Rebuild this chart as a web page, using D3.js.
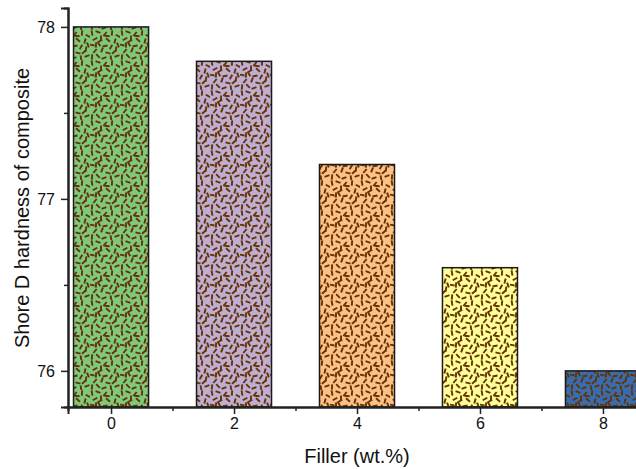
<!DOCTYPE html>
<html><head><meta charset="utf-8">
<script src="https://cdn.jsdelivr.net/npm/d3@7"></script>
<style>body{margin:0;background:#fff}svg{display:block;font-family:"Liberation Sans",Arial,sans-serif}</style>
</head><body><svg id="c" width="636" height="469"></svg>
<script>
const categories = [0, 2, 4, 6, 8];
const hardness = [78.0, 77.8, 77.2, 76.6, 76.0];
const barColors = ["#7fc97f", "#beaed4", "#fdc086", "#ffff99", "#386cb0"];
const yTicks = [76, 77, 78];
const yMinor = [76.5, 77.5];
const xTicks = [0, 2, 4, 6, 8];
const xMinor = [1, 3, 5, 7];
// texture dashes inside a 30x30 tile: [x, y, angle]
const dashes = [
  [2,3,80],[8,2,20],[15,4,-50],[22,3,95],[28,6,30],
  [5,9,-30],[11,8,90],[18,10,40],[25,11,-75],
  [2,15,10],[9,14,60],[15,16,-10],[21,17,120],[28,15,70],
  [5,21,130],[12,20,-70],[18,23,15],[24,22,-40],
  [2,27,95],[8,26,45],[14,28,-20],[21,28,80],[27,26,160],
  [10,11,150],[6,15,-85],[17,6,5],[26,19,100]
];

const svg = d3.select("#c");
const defs = svg.append("defs");
barColors.forEach((col, i) => {
  const p = defs.append("pattern").attr("id", "p" + i).attr("patternUnits", "userSpaceOnUse")
    .attr("width", 30).attr("height", 30);
  p.append("rect").attr("width", 30).attr("height", 30).attr("fill", col);
  p.selectAll("line").data(dashes).join("line")
    .attr("x1", d => d[0] - 2.6 * Math.cos(d[2] * Math.PI / 180))
    .attr("y1", d => d[1] - 2.6 * Math.sin(d[2] * Math.PI / 180))
    .attr("x2", d => d[0] + 2.6 * Math.cos(d[2] * Math.PI / 180))
    .attr("y2", d => d[1] + 2.6 * Math.sin(d[2] * Math.PI / 180))
    .attr("stroke", "#653300").attr("stroke-width", 1.9);
});

const x = d3.scaleLinear().domain([-0.7, 8.7]).range([68, 646]);
const y = d3.scaleLinear().domain([75.79, 78.11]).range([407, 8]);
const bw = x(1.22) - x(0);

svg.append("g").selectAll("rect").data(categories).join("rect")
  .attr("x", (d) => x(d) - bw / 2)
  .attr("y", (d, i) => y(hardness[i]))
  .attr("width", bw)
  .attr("height", (d, i) => y(75.79) - y(hardness[i]))
  .attr("fill", (d, i) => "url(#p" + i + ")")
  .attr("stroke", "#1a1a1a").attr("stroke-width", 1.5);

// axes
svg.append("g").attr("transform", "translate(0,407)")
  .call(d3.axisBottom(x).tickValues(xTicks).tickSize(7).tickPadding(4).tickFormat(d3.format("d")));
svg.append("g").attr("transform", "translate(0,407)")
  .call(d3.axisBottom(x).tickValues(xMinor).tickSize(4).tickFormat(""));
svg.append("g").attr("transform", "translate(68,0)")
  .call(d3.axisLeft(y).tickValues(yTicks).tickSize(7).tickPadding(6).tickFormat(d3.format("d")));
svg.append("g").attr("transform", "translate(68,0)")
  .call(d3.axisLeft(y).tickValues(yMinor).tickSize(4).tickFormat(""));
svg.selectAll(".domain").attr("stroke", "#222").attr("stroke-width", 2);
svg.selectAll(".tick line").attr("stroke", "#222").attr("stroke-width", 1.5);
svg.selectAll(".tick text").attr("font-size", 16).attr("fill", "#111").attr("font-family", "Liberation Sans, Arial, sans-serif");

svg.append("text").attr("x", 357).attr("y", 463).attr("text-anchor", "middle")
  .attr("font-size", 20).attr("fill", "#111").text("Filler (wt.%)");
svg.append("text").attr("transform", "translate(29,208) rotate(-90)").attr("text-anchor", "middle")
  .attr("font-size", 20).attr("fill", "#111").text("Shore D hardness of composite");
</script></body></html>
